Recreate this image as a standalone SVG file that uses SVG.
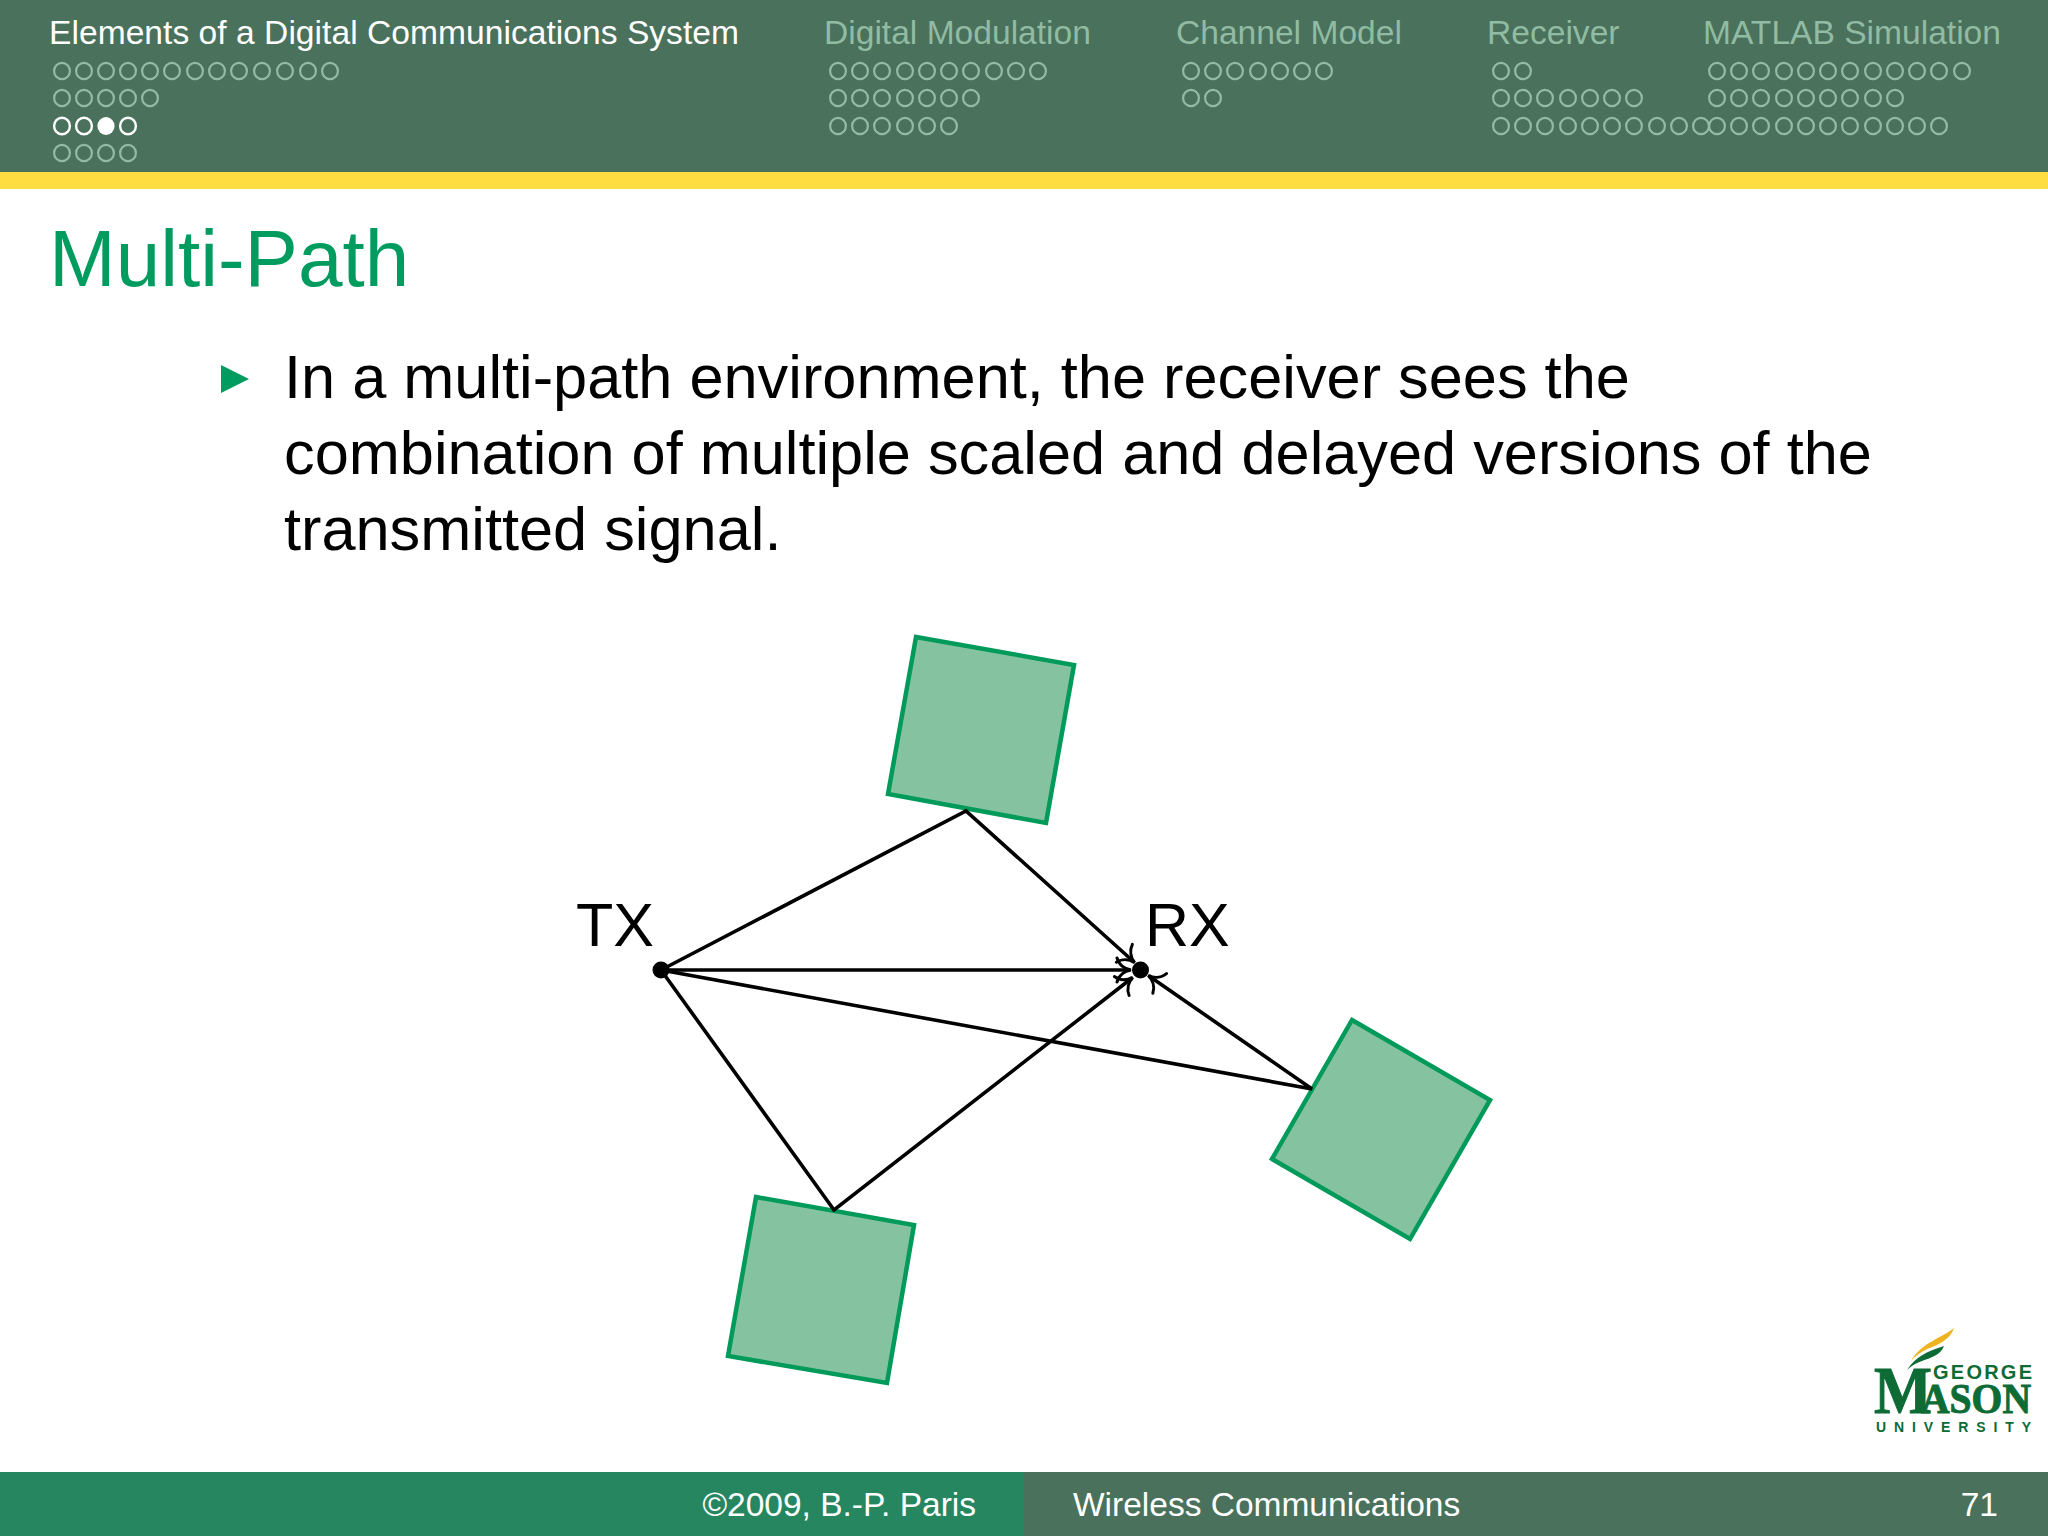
<svg xmlns="http://www.w3.org/2000/svg" width="2048" height="1536" viewBox="0 0 2048 1536">
<style>
text{font-family:"Liberation Sans",Arial,sans-serif}
.hd{font-size:33.6px;fill:#91bba3}
.ft{font-size:33.5px;fill:#fff}
.body{font-size:61.3px;fill:#000}
.lbl{font-size:61px;fill:#000}
.refl{fill:#85c2a0;stroke:#009a5a;stroke-width:4.5}
.c{fill:none;stroke:#000;stroke-width:3.6}
.dot{fill:none;stroke:#91bba3;stroke-width:2.2}
.cur{fill:none;stroke:#fff;stroke-width:2.4}
.logo{font-family:"Liberation Serif",serif;font-weight:bold;fill:#0d6b35;stroke:#0d6b35;stroke-width:1}
.logos{font-weight:bold;fill:#0d6b35}
</style>
<defs>
<marker id="to" markerUnits="userSpaceOnUse" markerWidth="24" markerHeight="28" refX="15" refY="14" orient="auto" overflow="visible">
<path d="M2 2C4 9 10 13 16 14C10 15 4 19 2 26" fill="none" stroke="#000" stroke-width="3" stroke-linecap="round"/>
</marker>
<ellipse id="d" rx="7.9" ry="8.2" class="dot"/>
<ellipse id="w" rx="7.9" ry="8.2" class="cur"/>
</defs>
<g id="header">
<rect width="2048" height="172" fill="#4a715b"/>
<rect y="172" width="2048" height="17" fill="#fedd40"/>
<text x="49" y="44" class="hd" style="fill:#fff" textLength="690">Elements of a Digital Communications System</text>
<text x="824" y="44" class="hd">Digital Modulation</text>
<text x="1176" y="44" class="hd">Channel Model</text>
<text x="1487" y="44" class="hd">Receiver</text>
<text x="1703" y="44" class="hd">MATLAB Simulation</text>
</g>
<g id="nav-dots" fill="none">
<g id="nav-1">
<use href="#d" x="62" y="71"/><use href="#d" x="84" y="71"/><use href="#d" x="106" y="71"/><use href="#d" x="128" y="71"/><use href="#d" x="150" y="71"/><use href="#d" x="172" y="71"/><use href="#d" x="195" y="71"/><use href="#d" x="217" y="71"/><use href="#d" x="239" y="71"/><use href="#d" x="262" y="71"/><use href="#d" x="285" y="71"/><use href="#d" x="308" y="71"/><use href="#d" x="330" y="71"/>
<use href="#d" x="62" y="98"/><use href="#d" x="84" y="98"/><use href="#d" x="106" y="98"/><use href="#d" x="128" y="98"/><use href="#d" x="150" y="98"/>
<use href="#w" x="62" y="126"/><use href="#w" x="84" y="126"/><ellipse cx="106" cy="126" rx="8.6" ry="9" fill="#fff"/><use href="#w" x="128" y="126"/>
<use href="#d" x="62" y="153"/><use href="#d" x="84" y="153"/><use href="#d" x="106" y="153"/><use href="#d" x="128" y="153"/>
</g>
<g id="nav-2">
<use href="#d" x="838" y="71"/><use href="#d" x="860" y="71"/><use href="#d" x="882" y="71"/><use href="#d" x="905" y="71"/><use href="#d" x="927" y="71"/><use href="#d" x="949" y="71"/><use href="#d" x="971" y="71"/><use href="#d" x="994" y="71"/><use href="#d" x="1016" y="71"/><use href="#d" x="1038" y="71"/>
<use href="#d" x="838" y="98"/><use href="#d" x="860" y="98"/><use href="#d" x="882" y="98"/><use href="#d" x="905" y="98"/><use href="#d" x="927" y="98"/><use href="#d" x="949" y="98"/><use href="#d" x="971" y="98"/>
<use href="#d" x="838" y="126"/><use href="#d" x="860" y="126"/><use href="#d" x="882" y="126"/><use href="#d" x="905" y="126"/><use href="#d" x="927" y="126"/><use href="#d" x="949" y="126"/>
</g>
<g id="nav-3">
<use href="#d" x="1191" y="71"/><use href="#d" x="1213" y="71"/><use href="#d" x="1235" y="71"/><use href="#d" x="1258" y="71"/><use href="#d" x="1280" y="71"/><use href="#d" x="1302" y="71"/><use href="#d" x="1324" y="71"/>
<use href="#d" x="1191" y="98"/><use href="#d" x="1213" y="98"/>
</g>
<g id="nav-4">
<use href="#d" x="1501" y="71"/><use href="#d" x="1523" y="71"/>
<use href="#d" x="1501" y="98"/><use href="#d" x="1523" y="98"/><use href="#d" x="1545" y="98"/><use href="#d" x="1568" y="98"/><use href="#d" x="1590" y="98"/><use href="#d" x="1612" y="98"/><use href="#d" x="1634" y="98"/>
<use href="#d" x="1501" y="126"/><use href="#d" x="1523" y="126"/><use href="#d" x="1545" y="126"/><use href="#d" x="1568" y="126"/><use href="#d" x="1590" y="126"/><use href="#d" x="1612" y="126"/><use href="#d" x="1634" y="126"/><use href="#d" x="1657" y="126"/><use href="#d" x="1679" y="126"/><use href="#d" x="1701" y="126"/>
</g>
<g id="nav-5">
<use href="#d" x="1717" y="71"/><use href="#d" x="1739" y="71"/><use href="#d" x="1761" y="71"/><use href="#d" x="1784" y="71"/><use href="#d" x="1806" y="71"/><use href="#d" x="1828" y="71"/><use href="#d" x="1850" y="71"/><use href="#d" x="1873" y="71"/><use href="#d" x="1895" y="71"/><use href="#d" x="1917" y="71"/><use href="#d" x="1939" y="71"/><use href="#d" x="1962" y="71"/>
<use href="#d" x="1717" y="98"/><use href="#d" x="1739" y="98"/><use href="#d" x="1761" y="98"/><use href="#d" x="1784" y="98"/><use href="#d" x="1806" y="98"/><use href="#d" x="1828" y="98"/><use href="#d" x="1850" y="98"/><use href="#d" x="1873" y="98"/><use href="#d" x="1895" y="98"/>
<use href="#d" x="1717" y="126"/><use href="#d" x="1739" y="126"/><use href="#d" x="1761" y="126"/><use href="#d" x="1784" y="126"/><use href="#d" x="1806" y="126"/><use href="#d" x="1828" y="126"/><use href="#d" x="1850" y="126"/><use href="#d" x="1873" y="126"/><use href="#d" x="1895" y="126"/><use href="#d" x="1917" y="126"/><use href="#d" x="1939" y="126"/>
</g>
</g>
<g id="title"><text x="49" y="286" font-size="80" fill="#009b5f">Multi-Path</text></g>
<g id="bullet">
<path d="M221 365L249 379L221 393Z" fill="#009b5f"/>
<text x="284" y="398" class="body">In a multi-path environment, the receiver sees the</text>
<text x="284" y="474" class="body">combination of multiple scaled and delayed versions of the</text>
<text x="284" y="550" class="body">transmitted signal.</text>
</g>
<g id="reflector-top"><path class="refl" d="M916 637L1074 665L1046 823L888 794Z"/></g>
<g id="reflector-right"><path class="refl" d="M1352 1020L1490 1100L1410 1239L1272 1159Z"/></g>
<g id="reflector-bottom"><path class="refl" d="M756 1197L914 1225L887 1383L728 1356Z"/></g>
<g id="connectors">
<path class="c" d="M661 970L966 811L1134 962" marker-end="url(#to)"/>
<path class="c" d="M661 970L1130 970" marker-end="url(#to)"/>
<path class="c" d="M661 970L1312 1089L1149 976" marker-end="url(#to)"/>
<path class="c" d="M661 970L834 1210L1132 978" marker-end="url(#to)"/>
</g>
<g id="tx"><circle cx="661" cy="970" r="8.5" fill="#000"/><text x="576" y="946" class="lbl">TX</text></g>
<g id="rx"><circle cx="1140.500" cy="970" r="8.500" fill="#000"/><text x="1145" y="946" class="lbl">RX</text></g>
<g id="logo">
<path d="M1911 1361C1922 1342 1942 1338 1954 1328C1950 1340 1938 1345 1927 1349C1921 1352 1915 1356 1911 1361Z" fill="#eeb41f"/>
<path d="M1907 1370C1915 1357 1928 1351 1944 1346C1941 1355 1930 1358 1922 1361C1916 1363 1911 1366 1907 1370Z" fill="#0d6b35"/>
<text x="1933" y="1379" class="logos" font-size="20" textLength="99">GEORGE</text>
<text x="1874" y="1413" class="logo" font-size="68" textLength="58" lengthAdjust="spacingAndGlyphs">M</text>
<text x="1921" y="1413" class="logo" font-size="43" textLength="110" lengthAdjust="spacingAndGlyphs">ASON</text>
<text x="1876" y="1432" class="logos" font-size="14" textLength="155">UNIVERSITY</text>
</g>
<g id="footer">
<rect y="1472" width="1024" height="64" fill="#26865f"/>
<rect x="1024" y="1472" width="1024" height="64" fill="#4a715b"/>
<text x="976" y="1516" text-anchor="end" class="ft">©2009, B.-P. Paris</text>
<text x="1073" y="1516" class="ft">Wireless Communications</text>
<text x="1998" y="1516" text-anchor="end" class="ft">71</text>
</g>
</svg>
